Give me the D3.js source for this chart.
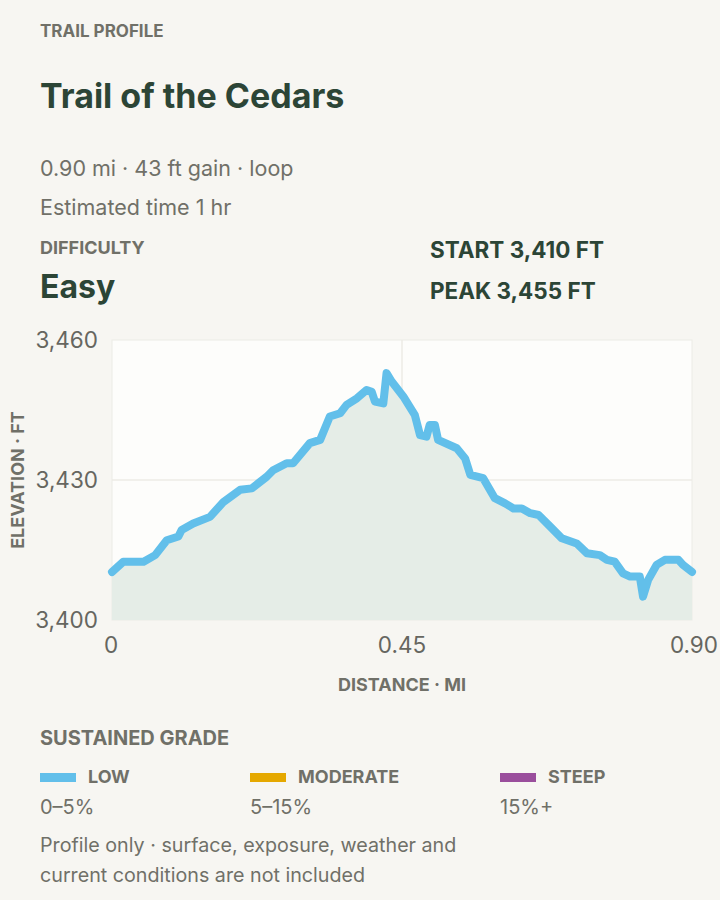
<!DOCTYPE html>
<html><head><meta charset="utf-8">
<script src="https://cdn.jsdelivr.net/npm/d3@7"></script>
<style>body{margin:0;background:#f7f6f2;font-family:Inter,"Open Sans",sans-serif}</style>
</head><body><svg id="c" width="720" height="900"></svg>
<script>
const distance = [0,0.0175,0.049,0.067,0.085,0.103,0.108,0.126,0.152,0.173,0.199,0.217,0.240,0.250,0.271,0.281,0.307,0.323,0.338,0.354,0.364,0.380,0.395,0.403,0.408,0.421,0.426,0.434,0.452,0.470,0.478,0.488,0.493,0.501,0.506,0.535,0.548,0.556,0.576,0.594,0.610,0.623,0.636,0.649,0.662,0.680,0.698,0.721,0.737,0.757,0.768,0.780,0.793,0.804,0.819,0.824,0.832,0.845,0.858,0.879,0.886,0.90];
const elevation = [3410.3,3412.5,3412.5,3413.9,3417.1,3417.9,3419.3,3420.7,3422.1,3425.3,3427.9,3428.2,3430.7,3432.1,3433.6,3433.6,3437.9,3438.6,3443.6,3444.3,3446.1,3447.5,3449.3,3448.9,3446.8,3446.4,3452.9,3451.1,3447.9,3443.9,3439.6,3439.3,3441.8,3441.8,3438.6,3436.8,3434.6,3431.1,3430.4,3426.1,3425.0,3423.9,3423.9,3422.9,3422.5,3420.0,3417.5,3416.4,3414.3,3413.9,3412.9,3412.5,3410.0,3409.3,3409.3,3405.0,3408.6,3411.8,3412.9,3412.9,3411.8,3410.3];
const yTicks = [3400,3430,3460];
const xTicks = [0,0.45,0.90];
const legendLabels = ["LOW","MODERATE","STEEP"];
const legendRanges = ["0–5%","5–15%","15%+"];
const legendColors = ["#62bfea","#e5a800","#9a4e9c"];

const svg = d3.select("#c");
const T = (x,y,t,size,weight,fill,anchor)=>svg.append("text").attr("x",x).attr("y",y).text(t)
  .attr("font-size",size).attr("font-weight",weight||400).attr("fill",fill).attr("text-anchor",anchor||"start");
T(40,37,"TRAIL PROFILE",17,700,"#707068");
T(40,108,"Trail of the Cedars",34,700,"#2c4536");
T(40,176,"0.90 mi · 43 ft gain · loop",21.5,400,"#707068");
T(40,215,"Estimated time 1 hr",21.5,400,"#707068");
T(40,254,"DIFFICULTY",18,700,"#707068");
T(40,298,"Easy",32,700,"#2c4536");
T(430,258,"START 3,410 FT",22.5,700,"#2c4536");
T(430,299,"PEAK 3,455 FT",22.5,700,"#2c4536");

const x = d3.scaleLinear().domain([0,0.9]).range([112,692]);
const y = d3.scaleLinear().domain([3400,3460]).range([620,340]);
svg.append("rect").attr("x",112).attr("y",340).attr("width",580).attr("height",280).attr("fill","#fdfdfb").attr("stroke","#ecebe6");
svg.append("line").attr("x1",112).attr("x2",692).attr("y1",y(3430)).attr("y2",y(3430)).attr("stroke","#ecebe6").attr("stroke-width",1.5);
svg.append("line").attr("x1",x(0.45)).attr("x2",x(0.45)).attr("y1",340).attr("y2",620).attr("stroke","#ecebe6").attr("stroke-width",1.5);
const pts = distance.map((d,i)=>[d,elevation[i]]);
svg.append("path").datum(pts).attr("d",d3.area().x(d=>x(d[0])).y0(620).y1(d=>y(d[1]))).attr("fill","#e5ede7");
svg.append("path").datum(pts).attr("d",d3.line().x(d=>x(d[0])).y(d=>y(d[1]))).attr("fill","none")
  .attr("stroke","#62bfea").attr("stroke-width",8).attr("stroke-linejoin","round").attr("stroke-linecap","round");

const fmt = d3.format(",");
yTicks.forEach(v=>T(98,y(v)+8,fmt(v),22.5,400,"#666660","end"));
xTicks.forEach((v,i)=>T(x(v),653,i==0?"0":d3.format(".2f")(v),22.5,400,"#666660",i==0?"start":i==2?"end":"middle").attr("x",i==0?104:i==2?718:x(v)));
T(402,691,"DISTANCE · MI",18,700,"#707068","middle");
T(24,480,"ELEVATION · FT",18,700,"#707068","middle").attr("transform","rotate(-90,24,480)");

T(40,745,"SUSTAINED GRADE",20,700,"#707068");
[40,250,500].forEach((lx,i)=>{
  svg.append("rect").attr("x",lx).attr("y",773).attr("width",36).attr("height",9).attr("fill",legendColors[i]);
  T(lx+48,783,legendLabels[i],18,700,"#707068");
  T(lx,814,legendRanges[i],20,400,"#707068");
});
T(40,852,"Profile only · surface, exposure, weather and",19.7,400,"#707068");
T(40,882,"current conditions are not included",19.7,400,"#707068");
</script></body></html>
